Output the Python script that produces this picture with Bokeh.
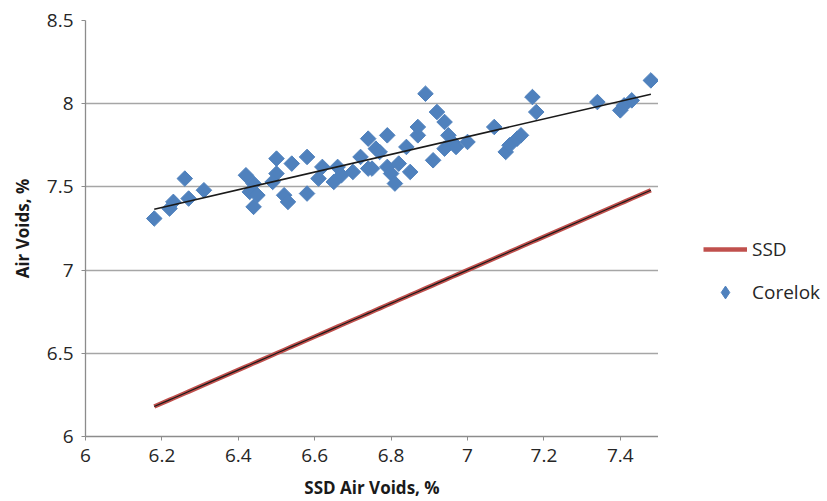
import numpy as np
from bokeh.plotting import figure
from bokeh.layouts import row
from bokeh.models import Range1d, FixedTicker, CustomJSTickFormatter, Legend, LegendItem, ColumnDataSource
from bokeh.embed import file_html
from bokeh.resources import INLINE

# Corelok vs SSD air voids
ssd_x = [6.18, 6.22, 6.23, 6.26, 6.27, 6.31, 6.42, 6.44, 6.43, 6.45, 6.44, 6.50, 6.50, 6.49,
         6.52, 6.53, 6.54, 6.58, 6.58, 6.61, 6.62, 6.65, 6.66, 6.67, 6.70, 6.72, 6.74, 6.74,
         6.75, 6.76, 6.77, 6.79, 6.79, 6.80, 6.81, 6.82, 6.84, 6.85, 6.87, 6.87, 6.89, 6.91,
         6.92, 6.94, 6.95, 6.94, 6.96, 6.97, 7.00, 7.07, 7.10, 7.11, 7.13, 7.14, 7.17, 7.18,
         7.34, 7.40, 7.41, 7.43, 7.48]
corelok_y = [7.31, 7.37, 7.41, 7.55, 7.43, 7.48, 7.57, 7.52, 7.47, 7.45, 7.38, 7.67, 7.58, 7.53,
             7.45, 7.41, 7.64, 7.68, 7.46, 7.55, 7.62, 7.53, 7.62, 7.57, 7.59, 7.68, 7.61, 7.79,
             7.61, 7.73, 7.71, 7.62, 7.81, 7.58, 7.52, 7.64, 7.74, 7.59, 7.81, 7.86, 8.06, 7.66,
             7.95, 7.89, 7.81, 7.73, 7.77, 7.74, 7.77, 7.86, 7.71, 7.75, 7.79, 7.81, 8.04, 7.95,
             8.01, 7.96, 7.99, 8.02, 8.14]

x_ticks = [6.0, 6.2, 6.4, 6.6, 6.8, 7.0, 7.2, 7.4]
y_ticks = [6.0, 6.5, 7.0, 7.5, 8.0, 8.5]
series_names = ["SSD", "Corelok"]

FONT = "Open Sans"
BLUE = "#4f81bd"
RED = "#c0504d"

p = figure(width=658, height=501, output_backend="svg", toolbar_location=None,
           x_range=Range1d(6.0, 7.5), y_range=Range1d(6.0, 8.5),
           min_border_left=85, min_border_right=0, min_border_top=20, min_border_bottom=61)
p.outline_line_color = None
p.background_fill_color = "white"
p.border_fill_color = "white"

# SSD line (y = x) with its linear trendline drawn over it
sx = np.array(sorted(ssd_x))
p.line(sx, sx, line_color=RED, line_width=4.5)
p.line(sx, sx, line_color="#1a1a1a", line_width=1.2)

# Corelok scatter
src = ColumnDataSource(dict(x=ssd_x, y=corelok_y))
p.scatter("x", "y", source=src, marker="square", angle=np.pi / 4, size=11,
          fill_color=BLUE, line_color=BLUE)

# Corelok linear trendline
m, b = np.polyfit(ssd_x, corelok_y, 1)
tx = np.array([min(ssd_x), max(ssd_x)])
p.line(tx, m * tx + b, line_color="#1a1a1a", line_width=1.6)

fmt = CustomJSTickFormatter(code="return String(Math.round(tick*10)/10)")
p.xaxis.ticker = FixedTicker(ticks=x_ticks)
p.yaxis.ticker = FixedTicker(ticks=y_ticks)
p.xaxis.formatter = fmt
p.yaxis.formatter = fmt

for ax in (p.xaxis, p.yaxis):
    ax.axis_line_color = "#8c8c8c"
    ax.axis_line_width = 1.3
    ax.major_tick_line_color = "#8c8c8c"
    ax.major_tick_in = 0
    ax.major_tick_out = 4
    ax.minor_tick_line_color = None
    ax.major_label_text_font = FONT
    ax.major_label_text_font_size = "19px"
    ax.major_label_text_color = "#262626"
    ax.axis_label_text_font = FONT
    ax.axis_label_text_font_size = "17px"
    ax.axis_label_text_font_style = "bold"
    ax.axis_label_text_color = "#1a1a1a"

p.xaxis.axis_label = "SSD Air Voids, %"
p.yaxis.axis_label = "Air Voids, %"
p.xaxis.major_label_standoff = 8
p.yaxis.major_label_standoff = 8
p.xaxis.axis_label_standoff = 11
p.yaxis.axis_label_standoff = 10

p.xgrid.grid_line_color = None
p.ygrid.grid_line_color = "#a6a6a6"
p.ygrid.grid_line_width = 1.3

# Legend panel on the right (placeholder renderers only supply the legend glyphs)
lg = figure(width=169, height=501, output_backend="svg", toolbar_location=None,
            x_axis_type=None, y_axis_type=None, min_border=0,
            x_range=Range1d(0, 1), y_range=Range1d(0, 1))
lg.outline_line_color = None
lg.grid.visible = False
r_ssd = lg.line([np.nan], [np.nan], line_color=RED, line_width=4.5)
r_core = lg.scatter([np.nan], [np.nan], marker="diamond", fill_color=BLUE, line_color=BLUE)
legend = Legend(items=[LegendItem(label=series_names[0], renderers=[r_ssd]),
                       LegendItem(label=series_names[1], renderers=[r_core])],
                location=(45, 128), glyph_width=44, glyph_height=32, label_height=32,
                spacing=11, padding=0, margin=0, label_standoff=5,
                label_text_font=FONT, label_text_font_size="19px", label_text_color="#262626",
                border_line_color=None, background_fill_alpha=0)
lg.add_layout(legend, "center")

open("out.html", "w").write(file_html(row(p, lg), INLINE))
